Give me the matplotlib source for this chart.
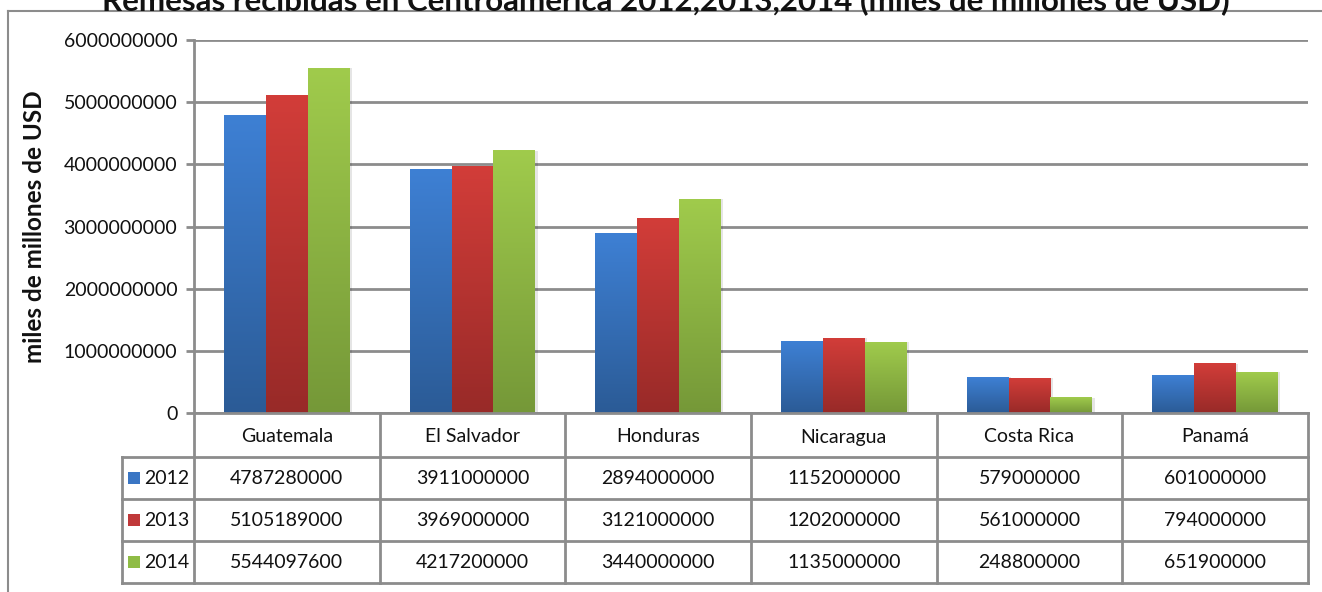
import matplotlib
matplotlib.use("Agg")
import matplotlib.pyplot as plt
import numpy as np
from matplotlib.colors import LinearSegmentedColormap
from matplotlib.lines import Line2D
from matplotlib.patches import Rectangle

plt.rcParams['font.family'] = ['Lato', 'DejaVu Sans']

title = "Remesas recibidas en Centroamérica 2012,2013,2014 (miles de millones de USD)"
ylabel = "miles de millones de USD"
categories = ["Guatemala", "El Salvador", "Honduras", "Nicaragua", "Costa Rica", "Panamá"]
series_names = ["2012", "2013", "2014"]
v2012 = [4787280000, 3911000000, 2894000000, 1152000000, 579000000, 601000000]
v2013 = [5105189000, 3969000000, 3121000000, 1202000000, 561000000, 794000000]
v2014 = [5544097600, 4217200000, 3440000000, 1135000000, 248800000, 651900000]
values = [v2012, v2013, v2014]
yticks = [0, 1000000000, 2000000000, 3000000000, 4000000000, 5000000000, 6000000000]

grad_colors = [("#3E80D4", "#2B5B96"), ("#D23D39", "#982A28"), ("#A0CB4C", "#759838")]
legend_colors = ["#3A76C4", "#C0393A", "#8FBC45"]

W, H = 1322, 592
fig = plt.figure(figsize=(W / 100, H / 100), dpi=100)

def fx(px):
    return px / W

def fy(py):
    return 1 - py / H

L, R, T, B = 194, 1308, 40, 413
ax = fig.add_axes([fx(L), fy(B), fx(R) - fx(L), fy(T) - fy(B)])
n = len(categories)

bw = 0.226
for s, vals in enumerate(values):
    cmap = LinearSegmentedColormap.from_list("g%d" % s, [grad_colors[s][1], grad_colors[s][0]])
    for i, v in enumerate(vals):
        x0 = i + 0.5 + (s - 1.5) * bw
        ax.add_patch(Rectangle((x0 + 0.012, 0), bw, v, facecolor="#000000", alpha=0.10,
                               edgecolor="none", zorder=2))
        grad = np.linspace(0, 1, 256).reshape(-1, 1)
        ax.imshow(grad, extent=(x0, x0 + bw, 0, v), origin="lower", cmap=cmap,
                  aspect="auto", zorder=3, interpolation="bilinear")
ax.set_xlim(0, n)
ax.set_ylim(0, 6000000000)

for t in yticks:
    ax.axhline(t, color="#8C8C8C", lw=2, zorder=1)
ax.set_yticks(yticks)
ax.set_yticklabels([str(t) for t in yticks], fontsize=14, color="#111111")
ax.tick_params(axis="y", length=6, width=2, color="#8C8C8C", pad=6)
ax.set_xticks([])
for sp in ["top", "right", "bottom"]:
    ax.spines[sp].set_visible(False)
ax.spines["left"].set_color("#8C8C8C")
ax.spines["left"].set_linewidth(2)
ax.set_ylabel(ylabel, fontsize=17.5, fontweight="bold", color="#111111")
ax.yaxis.set_label_coords((46 - L) / (R - L), 0.5)

# Table
cw = (R - L) / n
rows = [413, 457, 499, 541, 583]
LL = 122
gc = "#8C8C8C"

def hline(x0, x1, y):
    fig.add_artist(Line2D([fx(x0), fx(x1)], [fy(y), fy(y)], color=gc, lw=2))

def vline(x, y0, y1):
    fig.add_artist(Line2D([fx(x), fx(x)], [fy(y0), fy(y1)], color=gc, lw=2))

hline(L, R, rows[0])
for y in rows[1:]:
    hline(LL, R, y)
for i in range(n + 1):
    vline(L + i * cw, rows[0], rows[-1])
vline(LL, rows[1], rows[-1])

for i, c in enumerate(categories):
    fig.text(fx(L + (i + 0.5) * cw), fy((rows[0] + rows[1]) / 2 + 2), c, ha="center",
             va="center", fontsize=14, color="#111111")
for s, vals in enumerate(values):
    yc = (rows[s + 1] + rows[s + 2]) / 2
    fig.add_artist(Rectangle((fx(128), fy(yc + 6)), fx(12), 12 / H,
                             facecolor=legend_colors[s], edgecolor="none"))
    fig.text(fx(144), fy(yc), series_names[s], ha="left", va="center", fontsize=14,
             color="#111111")
    for i, v in enumerate(vals):
        fig.text(fx(L + (i + 0.5) * cw), fy(yc), str(v), ha="center", va="center",
                 fontsize=14, color="#111111")

# outer frame
fig.add_artist(Line2D([fx(8), fx(8)], [fy(11), fy(592)], color="#8C8C8C", lw=1.5))
fig.add_artist(Line2D([fx(8), fx(1322)], [fy(11), fy(11)], color="#8C8C8C", lw=1.5))

fig.text(fx(666), fy(10), title, ha="center", va="baseline", fontsize=22.5,
         fontweight="bold", color="#111111")

fig.savefig("out.png", dpi=100)
